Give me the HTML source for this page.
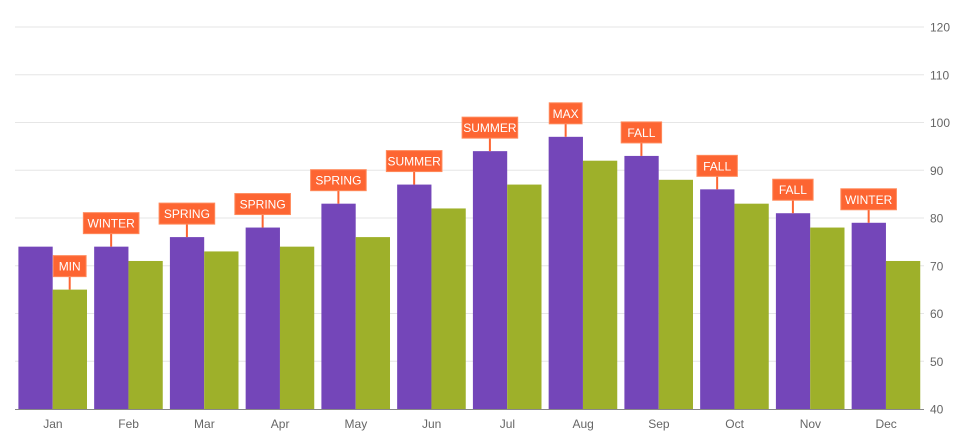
<!DOCTYPE html>
<html><head><meta charset="utf-8"><style>
body{margin:0;background:#fff;}
svg{display:block;font-family:"Segoe UI","Liberation Sans",sans-serif;}
</style></head><body>
<svg id="c" width="965" height="436" xmlns="http://www.w3.org/2000/svg"></svg>
<script>
const s=document.getElementById('c');let h='';
const y=v=>409-(v-40)*4.775;
for(let v=50;v<=120;v+=10){h+=`<line x1="15" x2="924" y1="${y(v)}" y2="${y(v)}" stroke="#e6e6e6" stroke-width="1"/>`;}
for(let v=40;v<=120;v+=10){h+=`<text x="930" y="${y(v)+4.5}" font-size="12" fill="#666">${v}</text>`;}
const m=['Jan','Feb','Mar','Apr','May','Jun','Jul','Aug','Sep','Oct','Nov','Dec'];
const p=[74,74,76,78,83,87,94,97,93,86,81,79],g=[65,71,73,74,76,82,87,92,88,83,78,71];
const L=['MIN','WINTER','SPRING','SPRING','SPRING','SUMMER','SUMMER','MAX','FALL','FALL','FALL','WINTER'];
const cw=75.75;
for(let i=0;i<12;i++){
 const x0=15+i*cw+3.4;
 h+=`<rect x="${x0}" y="${y(p[i])}" width="34.3" height="${409-y(p[i])}" fill="#7446b9"/>`;
 h+=`<rect x="${x0+34.3}" y="${y(g[i])}" width="34.3" height="${409-y(g[i])}" fill="#9eb02a"/>`;
 h+=`<text x="${15+i*cw+cw/2}" y="428" font-size="12" fill="#666" text-anchor="middle">${m[i]}</text>`;
 const cx=i==0?x0+34.3+17:x0+17, top=i==0?y(g[0]):y(p[i]);
 const w=L[i].length*7.6+10;
 h+=`<line x1="${cx}" x2="${cx}" y1="${top-13}" y2="${top}" stroke="#fd6532" stroke-width="2"/>`;
 h+=`<rect x="${cx-w/2}" y="${top-34}" width="${w}" height="21" fill="#fd6532" stroke="#ff8a5c" stroke-width="1"/>`;
 h+=`<text x="${cx}" y="${top-19}" font-size="12" fill="#fff" text-anchor="middle">${L[i]}</text>`;
}
h+=`<line x1="15" x2="924" y1="409.5" y2="409.5" stroke="#888" stroke-width="1"/>`;
s.innerHTML=h;
</script>
</body></html>
